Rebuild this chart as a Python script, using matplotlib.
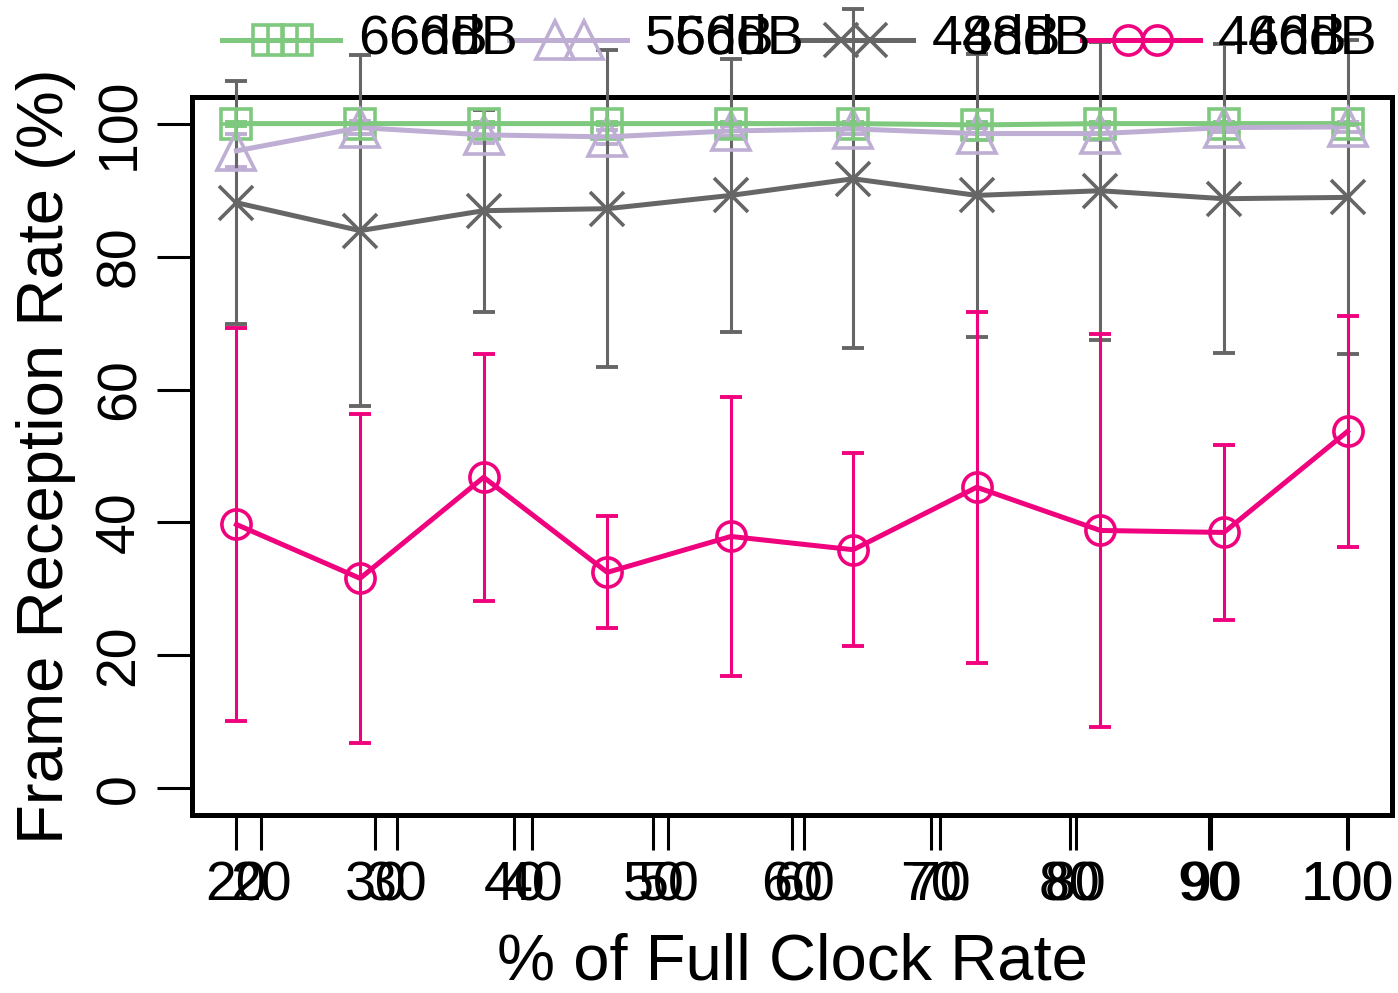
import matplotlib
matplotlib.use("Agg")
import matplotlib.pyplot as plt
from matplotlib.lines import Line2D

plt.rcParams['font.family'] = ['Liberation Sans', 'DejaVu Sans']

# clock rate positions (evenly spaced points between 20 and 100)
clock = [20, 28.9, 37.8, 46.7, 55.6, 64.4, 73.3, 82.2, 91.1, 100]
tick_vals = [20, 30, 40, 50, 60, 70, 80, 90, 100]
ytick_vals = [0, 20, 40, 60, 80, 100]

labels = ["66dB", "56dB", "48dB", "46dB"]
colors = ["#7FC97F", "#BEAED4", "#666666", "#F0027F"]

mean_66 = [100, 100, 100, 100, 100, 100, 99.8, 100, 100, 100]
sd_66 = [0.3, 0.2, 0.2, 0.2, 0.2, 0.2, 0.4, 0.2, 0.2, 0.2]
mean_56 = [95.9, 99.4, 98.3, 98.0, 98.9, 99.2, 98.5, 98.5, 99.4, 99.5]
sd_56 = [2.5, 1.0, 1.2, 1.0, 0.8, 0.8, 1.0, 1.0, 0.7, 0.7]
mean_48 = [88.1, 83.9, 86.9, 87.2, 89.2, 91.7, 89.2, 89.9, 88.7, 88.9]
sd_48 = [18.3, 26.4, 15.2, 23.8, 20.5, 25.5, 21.3, 22.4, 23.2, 23.6]
mean_46 = [39.7, 31.6, 46.8, 32.5, 37.9, 35.9, 45.3, 38.8, 38.5, 53.7]
sd_46 = [29.6, 24.7, 18.6, 8.4, 21.0, 14.5, 26.4, 29.5, 13.2, 17.4]

W, H = 1398, 993


def fx(px):
    return px / W


def fy(py):
    return 1 - py / H


fig = plt.figure(figsize=(W / 100, H / 100), dpi=100)
ax = fig.add_axes([fx(192), fy(815), fx(1392) - fx(192), fy(97) - fy(815)])

series = [(mean_66, sd_66), (mean_56, sd_56), (mean_48, sd_48), (mean_46, sd_46)]
marker_kw = [
    dict(marker='s', ms=22, mfc='none', mew=2.6),
    dict(marker='^', ms=28, mfc='none', mew=2.6),
    dict(marker='x', ms=24, mew=2.6),
    dict(marker='o', ms=21, mfc='none', mew=2.6),
]

for (m, s), c, mk in zip(series, colors, marker_kw):
    ax.errorbar(clock, m, yerr=s, fmt='none', ecolor=c, elinewidth=2.2,
                capsize=8, capthick=2.8, clip_on=False, zorder=3)
    ax.plot(clock, m, color=c, lw=3.6, mec=c, clip_on=False, zorder=4, **mk)
# square with a cross inside for 66dB
ax.plot(clock, mean_66, ls='none', marker='+', ms=22, mew=2.6,
        color=colors[0], clip_on=False, zorder=4)

ax.set_xlim(16.8, 103.2)
ax.set_ylim(-4, 104)
ax.set_xticks(tick_vals)
ax.set_xticklabels([str(v) for v in tick_vals])
ax.set_yticks(ytick_vals)
ax.set_yticklabels([str(v) for v in ytick_vals], rotation=90, va='center')
ax.tick_params(axis='both', direction='out', length=25, width=2.2,
               labelsize=40, pad=8)
for sp in ax.spines.values():
    sp.set_linewidth(3.6)

# second set of x ticks (the axis was drawn twice with another range)
ax2 = ax.twiny()
ax2.set_xlim(14.92, 103.31)
ax2.xaxis.set_ticks_position('bottom')
ax2.set_xticks(tick_vals)
ax2.set_xticklabels([str(v) for v in tick_vals])
ax2.tick_params(axis='x', direction='out', length=25, width=2.2,
                labelsize=40, pad=8)
for sp in ax2.spines.values():
    sp.set_visible(False)

ax.set_xlabel("% of Full Clock Rate", fontsize=47, labelpad=14)
ax.set_ylabel("Frame Reception Rate (%)", fontsize=47, labelpad=13)

# legend across the top, drawn twice with a small shift
legend_markers = [('s', 22), ('^', 28), ('x', 24), ('o', 21)]
for i, (lab, c) in enumerate(zip(labels, colors)):
    x0 = 222 + 286.7 * i
    ly = 40
    fig.add_artist(Line2D([fx(x0), fx(x0 + 118)], [fy(ly), fy(ly)],
                          color=c, lw=3.6, transform=fig.transFigure))
    mk, ms = legend_markers[i]
    for dx in (46, 75):
        fig.add_artist(Line2D([fx(x0 + dx)], [fy(ly)], ls='none', marker=mk,
                              ms=ms, mfc='none', mec=c, mew=2.6,
                              transform=fig.transFigure))
        if i == 0:
            fig.add_artist(Line2D([fx(x0 + dx)], [fy(ly)], ls='none',
                                  marker='+', ms=ms, mec=c, mew=2.6,
                                  transform=fig.transFigure))
    for dt in (136, 166):
        fig.text(fx(x0 + dt), fy(ly), lab, fontsize=40, ha='left',
                 va='center')

fig.savefig("out.png", dpi=100)
